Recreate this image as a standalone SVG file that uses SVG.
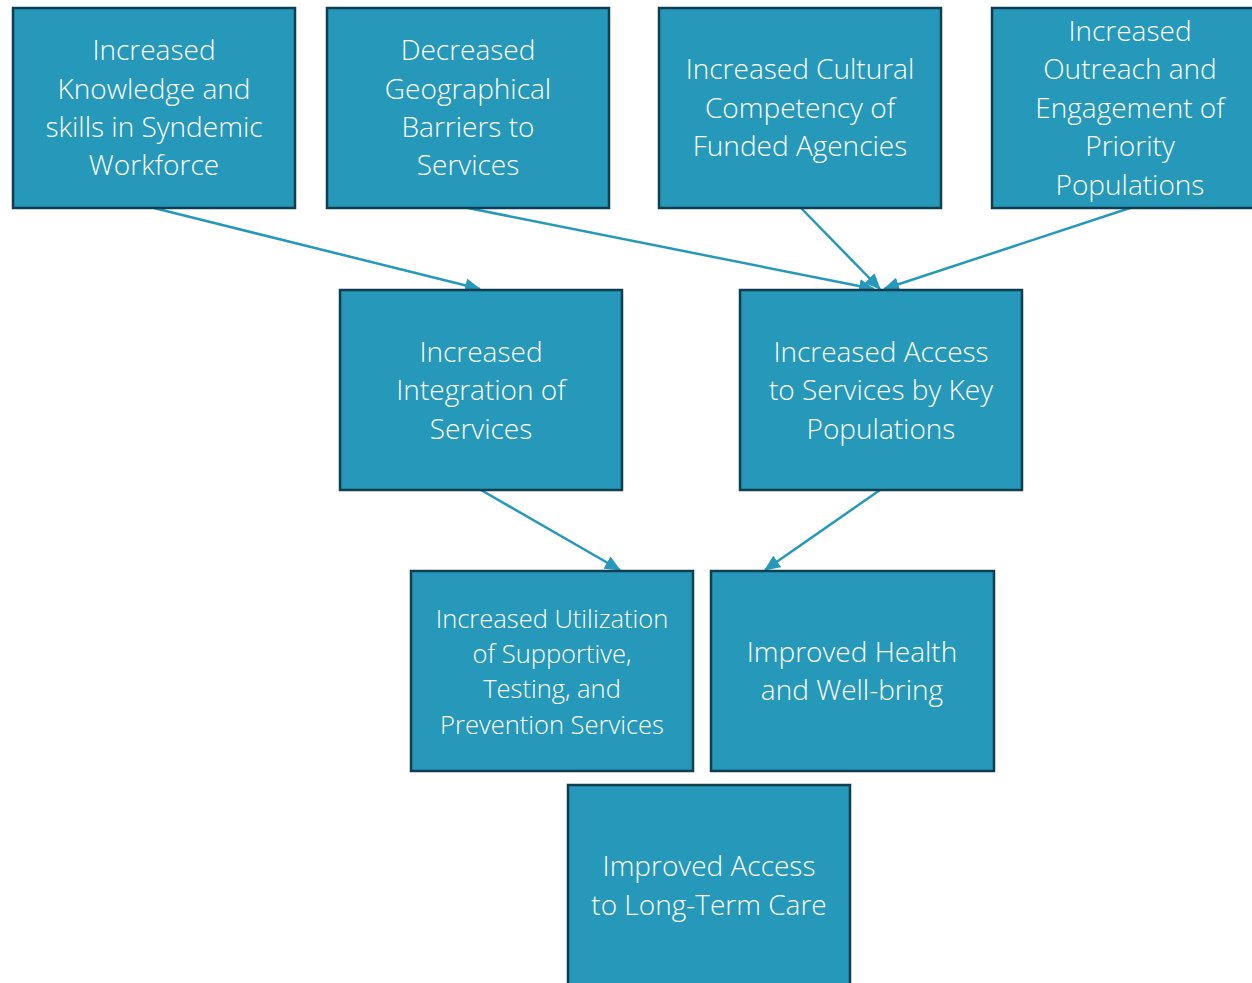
<svg xmlns="http://www.w3.org/2000/svg" width="1252" height="983" viewBox="0 0 1252 983">
<style>
.box{fill:#2698BA;stroke:#0F3E50;stroke-width:2.5}
.t{font-family:"Open Sans","Liberation Sans",sans-serif;font-weight:300;font-size:28px;fill:#FFFFFF;text-anchor:middle}
.s{font-size:25.5px}
.c{stroke:#2698BA;stroke-width:2.5;fill:none;marker-end:url(#ah)}
</style>
<defs>
<marker id="ah" markerWidth="16" markerHeight="14" refX="15" refY="7" orient="auto" markerUnits="userSpaceOnUse">
<path d="M0,0 L16,7 L0,14 Z" fill="#2698BA"/>
</marker>
</defs>
<rect width="1252" height="983" fill="#FFFFFF"/>
<g id="connectors">
<line class="c" x1="154" y1="208" x2="480" y2="289"/>
<line class="c" x1="468" y1="208" x2="874" y2="289"/>
<line class="c" x1="801" y1="208" x2="880" y2="289"/>
<line class="c" x1="1130" y1="208" x2="884" y2="289"/>
<line class="c" x1="481" y1="490" x2="620" y2="570"/>
<line class="c" x1="880" y1="490" x2="765" y2="570"/>
</g>
<g id="n1"><rect class="box" x="13" y="8" width="282" height="200"/>
<text class="t" x="154" y="60">Increased</text><text class="t" x="154" y="99">Knowledge and</text><text class="t" x="154" y="137">skills in Syndemic</text><text class="t" x="154" y="175">Workforce</text></g>
<g id="n2"><rect class="box" x="327" y="8" width="282" height="200"/>
<text class="t" x="468" y="60">Decreased</text><text class="t" x="468" y="99">Geographical</text><text class="t" x="468" y="137">Barriers to</text><text class="t" x="468" y="175">Services</text></g>
<g id="n3"><rect class="box" x="659" y="8" width="282" height="200"/>
<text class="t" x="800" y="79">Increased Cultural</text><text class="t" x="800" y="118">Competency of</text><text class="t" x="800" y="156">Funded Agencies</text></g>
<g id="n4"><rect class="box" x="992" y="8" width="282" height="200"/>
<text class="t" x="1130" y="41">Increased</text><text class="t" x="1130" y="79">Outreach and</text><text class="t" x="1130" y="118">Engagement of</text><text class="t" x="1130" y="156">Priority</text><text class="t" x="1130" y="195">Populations</text></g>
<g id="n5"><rect class="box" x="340" y="290" width="282" height="200"/>
<text class="t" x="481" y="362">Increased</text><text class="t" x="481" y="400">Integration of</text><text class="t" x="481" y="439">Services</text></g>
<g id="n6"><rect class="box" x="740" y="290" width="282" height="200"/>
<text class="t" x="881" y="362">Increased Access</text><text class="t" x="881" y="400">to Services by Key</text><text class="t" x="881" y="439">Populations</text></g>
<g id="n7"><rect class="box" x="411" y="571" width="282" height="200"/>
<text class="t s" x="552" y="628">Increased Utilization</text><text class="t s" x="552" y="663">of Supportive,</text><text class="t s" x="552" y="698">Testing, and</text><text class="t s" x="552" y="734">Prevention Services</text></g>
<g id="n8"><rect class="box" x="711" y="571" width="283" height="200"/>
<text class="t" x="852" y="662">Improved Health</text><text class="t" x="852" y="700">and Well-bring</text></g>
<g id="n9"><rect class="box" x="568" y="785" width="282" height="200"/>
<text class="t" x="709" y="876">Improved Access</text><text class="t" x="709" y="915">to Long-Term Care</text></g>
</svg>
